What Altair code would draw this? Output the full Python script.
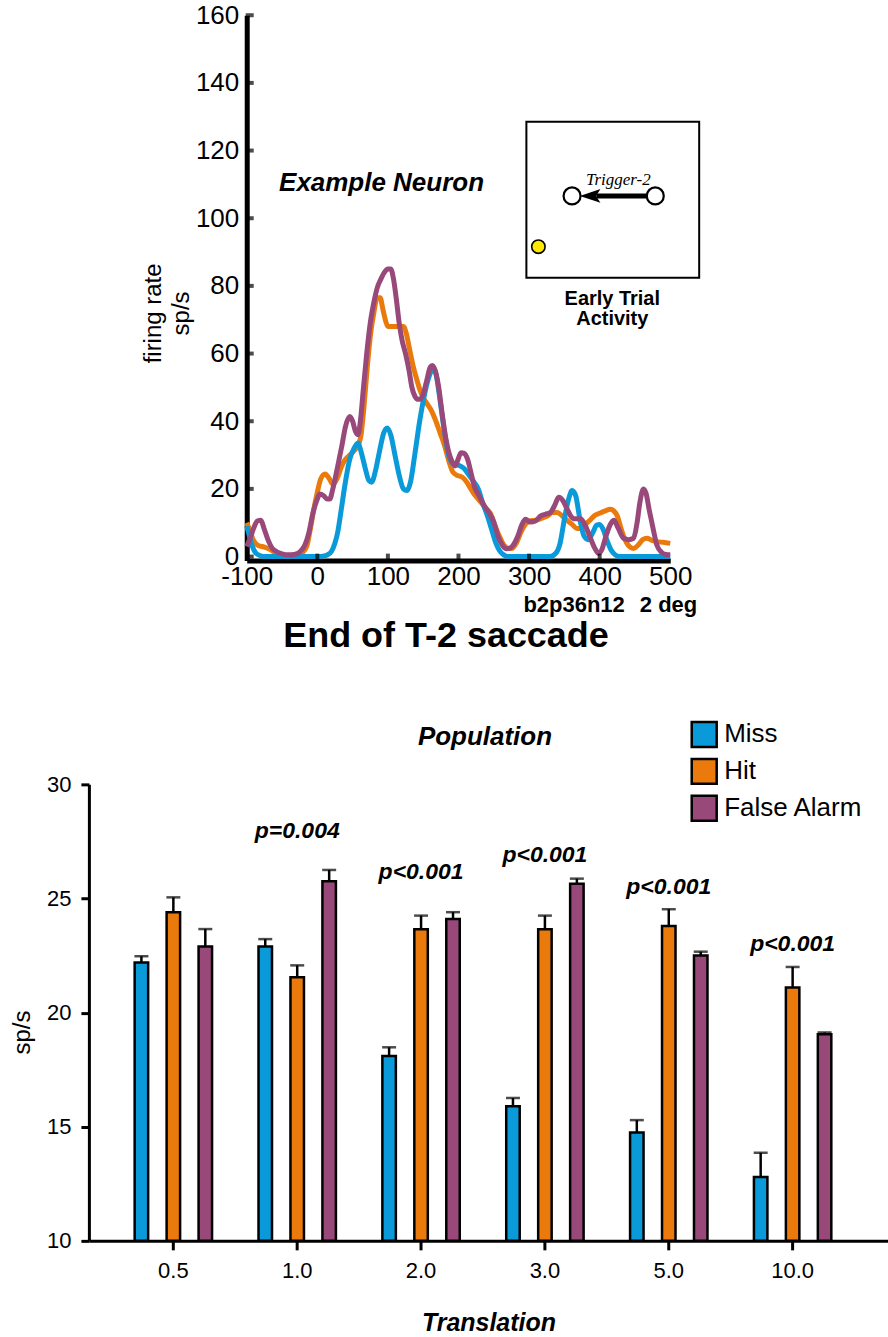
import altair as alt
import pandas as pd

# ---------------- Example neuron: firing rate around the end of the T-2 saccade ----------------
miss_t = [-100, -96, -92, -87, -80, -75, -40, 0, 10, 15, 20, 25, 29, 34, 39, 46, 52, 57.6, 62, 68,
          73, 77, 82, 88, 94, 99, 104, 110, 116, 122, 127, 132, 138, 145, 152, 158, 164, 168, 174,
          180, 186, 192, 200, 208, 215, 222, 228, 234, 241, 247, 253, 258, 264, 270, 330, 338, 344,
          350, 356, 361, 366, 372, 378, 384, 390, 396, 400, 405, 410, 416, 422, 428, 500]
miss_rate = [9, 6, 3, 1, 0.2, 0, 0, 0, 0.2, 0.6, 1.5, 4, 7.3, 14, 21, 28.8, 32, 33.6, 31, 26,
             22.5, 22, 25, 31, 36.5, 38, 36, 30, 24, 20, 19.5, 22, 30, 40, 48, 53, 55.5, 54, 46,
             37, 30, 27.5, 27, 26, 24, 22, 20, 16, 12, 8, 4, 1.8, 0.5, 0, 0, 1, 4,
             11, 17, 19.5, 18, 11, 6, 5, 7, 9.3, 9.5, 8, 5, 2, 0.5, 0, 0]

hit_t = [-100, -96, -92, -88, -83, -75, -68, -60, -50, -40, -30, -22, -15, -10, -5, 0, 5, 11, 17, 22,
         28, 34, 39, 46, 53, 58, 62, 66, 70, 75, 80, 85, 89, 93, 97, 100, 110, 122, 126, 130, 135,
         140, 145, 150, 156, 162, 168, 174, 180, 186, 192, 198, 205, 210, 216, 222, 228, 234, 240,
         246, 252, 258, 264, 270, 276, 282, 288, 294, 300, 307, 314, 320, 326, 333, 340, 347, 354,
         361, 368, 373, 378, 385, 392, 400, 408, 415, 420, 425, 430, 435, 441, 448, 455, 461, 467,
         474, 481, 490, 500]
hit_rate = [10, 8, 5.5, 4, 3.2, 2.8, 2.2, 1.2, 0.6, 0.2, 0.3, 1, 3, 8, 14, 19, 23, 24.4, 23, 21.4,
            23, 26.5, 28.5, 30, 31.5, 33, 36, 44, 54, 65, 72, 76.5, 76.5, 73, 69.5, 68, 68, 68, 66, 62, 57,
            53, 49.5, 47, 45, 43, 40, 36.5, 33, 28.5, 25, 24, 23.5, 22.5, 20.5, 18.5, 17, 15.5, 14,
            12.5, 9, 6, 3.5, 2.5, 2.4, 4, 7, 9.3, 10.5, 10.7, 11, 11.5, 12, 13, 13, 12, 10.7,
            9.5, 8.3, 8.3, 9.3, 10.5, 12, 12.8, 13.5, 14, 13.5, 12, 8.5, 5.4, 3.2, 2.4, 3.5, 5, 5.4,
            4.8, 4.4, 4.2, 3.9]

fa_t = [-100, -95, -90, -85, -80, -75, -70, -64, -58, -50, -41, -33, -27, -22, -17.6, -12, -6, 0, 3.5, 9,
        14, 17.6, 22, 29, 35, 40, 46, 50, 54, 57.6, 61, 65, 70, 75, 80, 85, 90, 95, 100, 104, 108,
        112, 116, 120, 125, 130, 134, 138, 142, 146, 150, 155, 160, 163, 167, 172, 177, 182, 186, 191,
        195, 199, 203.5, 208, 213, 218, 222, 229, 236.5, 243, 250, 256, 262, 268, 272, 278, 284, 290,
        295, 302, 309, 316.5, 323, 330, 336, 342, 348, 354, 359, 363.5, 373, 380, 387, 393, 398.6,
        403, 408, 414, 420, 426, 434, 441, 448, 453, 457, 462, 466, 470, 474, 478, 481, 488, 494, 500]
fa_rate = [3, 5.5, 8.5, 10.5, 10.7, 8, 5, 2.5, 1.5, 0.8, 0.5, 0.6, 1, 2, 3.4, 7, 13, 17, 18.5, 18,
           17, 17, 20, 26.8, 33, 38.5, 41.4, 40, 37, 36, 40, 49, 60, 69, 75, 79.5, 82, 84, 85, 85, 82,
           76, 69, 64, 60, 55, 50, 47.5, 46.5, 46.5, 48, 52, 56, 56.5, 55, 50, 42, 35, 31, 28,
           26.8, 28.5, 30.7, 30.5, 28.7, 24.5, 21, 18, 15, 13, 10.2, 6, 3.4, 2.3, 2.4, 3.5, 6, 9.5,
           11, 10.2, 10.5, 12, 12.5, 13, 15, 17.5, 16.5, 14, 12, 11.2, 11.2, 9, 5.4, 2.5, 1,
           2, 5.4, 9, 10.7, 8.5, 5.4, 5, 5.4, 10, 16, 20, 18.5, 14, 10, 6, 3.4, 1.2, 0.6, 0.5]

time_ticks = [-100, 0, 100, 200, 300, 400, 500]
rate_ticks = [0, 20, 40, 60, 80, 100, 120, 140, 160]

# Inset schematic (in time / firing-rate units of the panel)
inset_box = pd.DataFrame({"t": [296.2], "t2": [541.0], "rate": [128.5], "rate2": [82.4]})
inset_targets = pd.DataFrame({"t": [360.9, 478.8], "rate": [106.6, 106.6]})
inset_fixation = pd.DataFrame({"t": [313.2], "rate": [91.6]})
inset_arrow = pd.DataFrame({"t": [395.3], "t2": [467.5], "rate": [106.6]})
inset_arrowhead = pd.DataFrame({"t": [389.6], "rate": [106.6]})

# ---------------- Population: mean firing rate by translation ----------------
conditions = ["Miss", "Hit", "False Alarm"]
palette = {"Miss": "#0a9ad9", "Hit": "#ea7a0c", "False Alarm": "#984879"}
translation = ["0.5", "1.0", "2.0", "3.0", "5.0", "10.0"]
miss_mean = [22.2, 22.9, 18.1, 15.9, 14.75, 12.8]
miss_sem = [0.27, 0.32, 0.38, 0.36, 0.54, 1.06]
hit_mean = [24.4, 21.55, 23.65, 23.65, 23.8, 21.1]
hit_sem = [0.65, 0.52, 0.6, 0.6, 0.73, 0.9]
fa_mean = [22.9, 25.75, 24.1, 25.65, 22.5, 19.05]
fa_sem = [0.76, 0.5, 0.3, 0.22, 0.17, 0.08]

p_groups = ["1.0", "2.0", "3.0", "5.0", "10.0"]
p_text = ["p=0.004", "p<0.001", "p<0.001", "p<0.001", "p<0.001"]
p_label_y = [27.94, 26.15, 26.9, 25.5, 23.0]

FONT = "Liberation Sans"
W = 800
TOP_H = 546
BOT_H = 457

# ---------------- top panel ----------------
top_x = alt.X(
    "t:Q",
    scale=alt.Scale(domain=[-100, 500], range=[158, 582], nice=False, zero=False),
    axis=alt.Axis(values=time_ticks, ticks=False, tickSize=0, domainWidth=5, domainColor="black",
                  labelFontSize=26, labelPadding=3, labelColor="black", labelFlush=False,
                  labelExpr="'' + datum.value",
                  grid=False, title="End of T-2 saccade", titleFontSize=36, titleFontWeight="bold",
                  titleColor="black", titleX=357, titlePadding=29),
)
top_y = alt.Y(
    "rate:Q",
    scale=alt.Scale(domain=[-1.2, 160], nice=False, zero=False),
    axis=alt.Axis(values=rate_ticks, offset=-158, ticks=False, tickSize=0, domainWidth=5,
                  domainColor="black", labelFontSize=26, labelPadding=8, labelColor="black",
                  labelFlush=False, grid=False, title=["firing rate", "sp/s"], titleFontSize=24,
                  titleFontWeight="normal", titleColor="black", titlePadding=2, titleY=298,
                  titleLineHeight=28),
)

layers = []
for name, ts, rs in [("Hit", hit_t, hit_rate), ("Miss", miss_t, miss_rate),
                     ("False Alarm", fa_t, fa_rate)]:
    df = pd.DataFrame({"t": ts, "rate": rs})
    layers.append(
        alt.Chart(df).mark_line(color=palette[name], strokeWidth=5, interpolate="monotone")
        .encode(x=top_x, y=top_y)
    )

# inward tick stubs on both axes
ystubs = alt.Chart(pd.DataFrame({"rate": rate_ticks})).mark_tick(
    orient="horizontal", size=8, thickness=4, xOffset=3, color="black"
).encode(x=alt.datum(-100), y=top_y)
xstubs = alt.Chart(pd.DataFrame({"t": time_ticks[1:-1]})).mark_tick(
    orient="vertical", size=8, thickness=4, yOffset=-3, color="black"
).encode(x=top_x, y=alt.datum(-1.2))

box = alt.Chart(inset_box).mark_rect(fill="white", stroke="black", strokeWidth=2).encode(
    x=top_x, x2="t2:Q", y=top_y, y2="rate2:Q")
shaft = alt.Chart(inset_arrow).mark_rule(color="black", strokeWidth=5).encode(
    x=top_x, x2="t2:Q", y=top_y)
head = alt.Chart(inset_arrowhead).mark_point(
    shape="M -1 0 L 0.65 -0.55 L 0.3 0 L 0.65 0.55 Z", size=625, filled=True, color="black", opacity=1
).encode(x=top_x, y=top_y)
targets = alt.Chart(inset_targets).mark_point(
    shape="circle", size=289, filled=True, fill="white", stroke="black", strokeWidth=2.2, opacity=1
).encode(x=top_x, y=top_y)
fixation = alt.Chart(inset_fixation).mark_point(
    shape="circle", size=180, filled=True, fill="#ffe800", stroke="black", strokeWidth=1.6, opacity=1
).encode(x=top_x, y=top_y)

def label(df, **kw):
    return alt.Chart(df).mark_text(color="black", **kw).encode(x=top_x, y=top_y, text="txt:N")

lab_example = label(pd.DataFrame({"t": [91], "rate": [110.4], "txt": ["Example Neuron"]}),
                    fontSize=26, fontWeight="bold", fontStyle="italic", align="center", baseline="middle")
lab_trigger = label(pd.DataFrame({"t": [426.4], "rate": [111.3], "txt": ["Trigger-2"]}),
                    fontSize=17, font="Liberation Serif", fontStyle="italic", align="center",
                    baseline="middle")
lab_early = alt.Chart(pd.DataFrame({"t": [417.9], "rate": [79.1]})).mark_text(
    text=["Early Trial", "Activity"], fontSize=20, fontWeight="bold", lineHeight=20,
    align="center", baseline="top", color="black"
).encode(x=top_x, y=top_y)
lab_cell = label(pd.DataFrame({"t": [292], "rate": [-14.3], "txt": ["b2p36n12"]}),
                 fontSize=22, fontWeight="bold", align="left", baseline="middle")
lab_deg = label(pd.DataFrame({"t": [538.2], "rate": [-14.3], "txt": ["2 deg"]}),
                fontSize=22, fontWeight="bold", align="right", baseline="middle")

top = alt.layer(
    box, shaft, head, targets, fixation,
    *layers, ystubs, xstubs,
    lab_example, lab_trigger, lab_early, lab_cell, lab_deg,
).properties(width=W, height=TOP_H)

# ---------------- bottom panel ----------------
bars_df = pd.DataFrame({
    "translation": translation * 3,
    "condition": ["Miss"] * 6 + ["Hit"] * 6 + ["False Alarm"] * 6,
    "mean": miss_mean + hit_mean + fa_mean,
    "sem": miss_sem + hit_sem + fa_sem,
})
bars_df["top"] = bars_df["mean"] + bars_df["sem"]

bx = alt.X(
    "translation:N", sort=translation,
    scale=alt.Scale(paddingInner=0.226, paddingOuter=0.339, align=0.435),
    axis=alt.Axis(title="Translation", titleFontSize=25, titleFontWeight="bold",
                  titleFontStyle="italic", titleColor="black", titlePadding=29,
                  labelFontSize=22, labelPadding=11, labelAngle=0, labelColor="black",
                  tickSize=9, tickWidth=3, tickColor="black", domainWidth=3, domainColor="black",
                  grid=False),
)
bxo = alt.XOffset("condition:N", sort=conditions,
                  scale=alt.Scale(paddingInner=0.578, paddingOuter=0.289))
y_axis = alt.Axis(values=[10, 15, 20, 25, 30], title="sp/s", titleFontSize=24,
                  titleFontWeight="normal", titleColor="black", titlePadding=12, titleY=248,
                  labelFontSize=22, labelPadding=10, labelColor="black", tickSize=8, tickWidth=3,
                  tickColor="black", domainWidth=3, domainColor="black", grid=False)
y_scale = alt.Scale(domain=[10, 30], nice=False, zero=False)

def by(field):
    return alt.Y(field, scale=y_scale, axis=y_axis)

# the legend is placed relative to the top panel's plot origin
bars = alt.Chart(bars_df).mark_bar(stroke="black", strokeWidth=2.5).encode(
    x=bx, xOffset=bxo, y=by("mean:Q"), y2=alt.datum(10),
    color=alt.Color("condition:N", sort=conditions,
                    scale=alt.Scale(domain=conditions, range=[palette[c] for c in conditions]),
                    legend=alt.Legend(title=None, orient="none", legendX=602, legendY=706,
                                      symbolType="square", symbolSize=625,
                                      symbolStrokeColor="black", symbolStrokeWidth=2.5,
                                      labelFontSize=26, labelColor="black", labelOffset=6,
                                      rowPadding=1, padding=0)),
)
err = alt.Chart(bars_df).mark_rule(color="black", strokeWidth=2.5).encode(
    x=bx, xOffset=bxo, y=by("mean:Q"), y2="top:Q")
cap = alt.Chart(bars_df).mark_tick(orient="horizontal", size=14, thickness=2.5, color="black").encode(
    x=bx, xOffset=bxo, y=by("top:Q"))

p_df = pd.DataFrame({"translation": p_groups, "p": p_text, "label_y": p_label_y})
plab = alt.Chart(p_df).mark_text(fontSize=23, fontWeight="bold", fontStyle="italic",
                                 color="black", baseline="middle").encode(
    x=bx, y=by("label_y:Q"), text="p:N")

pop = alt.Chart(pd.DataFrame({"label_y": [32.06], "txt": ["Population"]})).mark_text(
    fontSize=26, fontWeight="bold", fontStyle="italic", color="black", baseline="middle"
).encode(x=alt.value(W / 2 - 3.5), y=by("label_y:Q"), text="txt:N")

bottom = alt.layer(bars, err, cap, plab, pop).properties(width=W, height=BOT_H)

chart = alt.vconcat(top, bottom, spacing=224, bounds="flush").properties(
    padding={"left": 10, "top": 1.5, "right": 0, "bottom": 0}
).configure(font=FONT).configure_view(stroke=None).configure_axis(grid=False)

chart.save("out.html", embed_options={"renderer": "svg", "actions": False})
